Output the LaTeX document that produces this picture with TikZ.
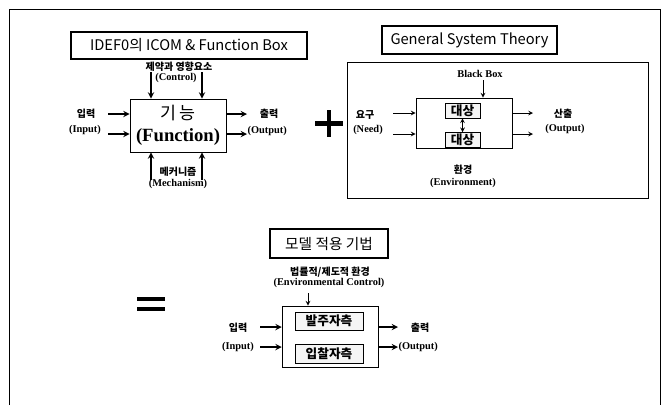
\documentclass[tikz,border=0pt]{standalone}
\usepackage{fontspec}
\setmainfont{Liberation Serif}
\newfontfamily\kr{Noto Sans CJK KR}
\usetikzlibrary{arrows.meta, positioning, calc}

\begin{document}
\begin{tikzpicture}[
    x=0.75pt, y=-0.75pt,
    % Box styles
    titlebox/.style={draw, line width=1.4pt, font=\kr\fontsize{11}{13}\selectfont, inner sep=0pt},
    funcbox/.style={draw, semithick, inner sep=0pt},
    objbox/.style={draw, thin, fill=gray!8, font=\kr\bfseries\fontsize{9.5}{11}\selectfont, inner sep=0pt},
    % Label styles
    krlabel/.style={font=\kr\bfseries\fontsize{7.5}{9}\selectfont, inner sep=1pt},
    enlabel/.style={font=\bfseries\fontsize{7.8}{9}\selectfont, inner sep=1pt},
    flow/.style={->, >=stealth, line width=1.1pt},
    sign/.style={line width=3.6pt}
]
\useasboundingbox (0,0) rectangle (666,405);

% Outer frame (bottom edge is cut off)
\draw[semithick] (9,405) -- (9,9) -- (660,9) -- (660,405);

% IDEF0 ICOM and function box
\node[titlebox, minimum width=177pt, minimum height=20.25pt] (idef_title) at (189,45.5) {IDEF0의 ICOM \& Function Box};
\node[funcbox, minimum width=72pt, minimum height=39.75pt] (func_box) at (178,125.5) {};
\node[font=\kr\fontsize{13}{15}\selectfont] (func_kr) at (178,113) {기\,능};
\node[font=\bfseries\fontsize{14}{16}\selectfont] (func_en) at (178,137) {(Function)};

\node[krlabel] (ctrl_kr) at (179,67) {제약과 영향요소};
\node[enlabel] (ctrl_en) at (176,78) {(Control)};
\node[krlabel] (in_kr) at (86,114) {입력};
\node[enlabel] (in_en) at (85,130) {(Input)};
\node[krlabel] (out_kr) at (269,114) {출력};
\node[enlabel, anchor=west] (out_en) at (246,131) {(Output)};
\node[krlabel] (mech_kr) at (178,172) {메커니즘};
\node[enlabel] (mech_en) at (178,184) {(Mechanism)};

\foreach \y/\n in {114/1, 134/2} {
    \coordinate (in\n) at (108,\y);
    \coordinate (out\n) at (247,\y);
    \draw[flow] (in\n) -- (in\n -| func_box.west);
    \draw[flow] (out\n -| func_box.east) -- (out\n);
}
\foreach \x/\n in {151/1, 202/2} {
    \coordinate (ctrl\n) at (\x,72);
    \coordinate (mech\n) at (\x,180);
    \draw[flow] (ctrl\n) -- (ctrl\n |- func_box.north);
    \draw[flow] (mech\n) -- (mech\n |- func_box.south);
}

% Plus sign
\draw[sign] (315,123.5) -- (343,123.5);
\draw[sign] (329,110) -- (329,137);

% General system theory
\node[titlebox, minimum width=131.25pt, minimum height=21pt] (gst_title) at (469.5,40) {General System Theory};
\node[funcbox, thin, minimum width=225.75pt, minimum height=102pt] (env_box) at (497.5,130) {};
\node[funcbox, minimum width=72pt, minimum height=37.5pt] (black_box) at (464,123) {};
\node[objbox, minimum width=26.25pt, minimum height=11.25pt] (obj1) at (462.5,110.5) {대상};
\node[objbox, minimum width=26.25pt, minimum height=11.25pt] (obj2) at (462.5,140) {대상};
\draw[<->, >=stealth, semithick] (obj1.south) -- (obj2.north);

\node[enlabel] (bb_label) at (480,74) {Black Box};
\coordinate (bb_in) at (483,80);
\draw[flow, semithick] (bb_in) -- (bb_in |- black_box.north);

\node[krlabel] (need_kr) at (365,115) {요구};
\node[enlabel] (need_en) at (368,130) {(Need)};
\node[krlabel] (prod_kr) at (563,114) {산출};
\node[enlabel] (prod_en) at (565,129) {(Output)};
\node[krlabel] (env_kr) at (463,170) {환경};
\node[enlabel] (env_en) at (463,183) {(Environment)};

\foreach \y/\n in {113/1, 134/2} {
    \coordinate (need\n) at (393,\y);
    \coordinate (prod\n) at (533,\y);
    \draw[flow, semithick] (need\n) -- (need\n -| black_box.west);
    \draw[flow, semithick] (prod\n -| black_box.east) -- (prod\n);
}

% Equals sign
\draw[sign, line width=3pt] (137,298.5) -- (165,298.5);
\draw[sign, line width=3pt] (137,309) -- (165,309);

% Model application method
\node[titlebox, minimum width=88.5pt, minimum height=21.75pt] (model_title) at (329,243.5) {모델 적용 기법};
\node[krlabel] (law_kr) at (330,272) {법률적/제도적 환경};
\node[enlabel] (law_en) at (329,283) {(Environmental Control)};
\node[funcbox, thin, minimum width=72pt, minimum height=46pt] (model_box) at (330,336.5) {};
\node[objbox, minimum width=51pt, minimum height=13.5pt] (owner) at (329,321) {발주자측};
\node[objbox, minimum width=51pt, minimum height=14pt] (bidder) at (329,353.5) {입찰자측};

\coordinate (law_in) at (308,293);
\draw[flow, semithick] (law_in) -- (law_in |- model_box.north);

\node[krlabel] (min_kr) at (238,328) {입력};
\node[enlabel] (min_en) at (238,347) {(Input)};
\node[krlabel] (mout_kr) at (420,328) {출력};
\node[enlabel, anchor=west] (mout_en) at (397,347) {(Output)};

\foreach \y/\n in {327/1, 347/2} {
    \coordinate (min\n) at (260,\y);
    \coordinate (mout\n) at (398,\y);
    \draw[flow] (min\n) -- (min\n -| model_box.west);
    \draw[flow] (mout\n -| model_box.east) -- (mout\n);
}

\end{tikzpicture}
\end{document}
